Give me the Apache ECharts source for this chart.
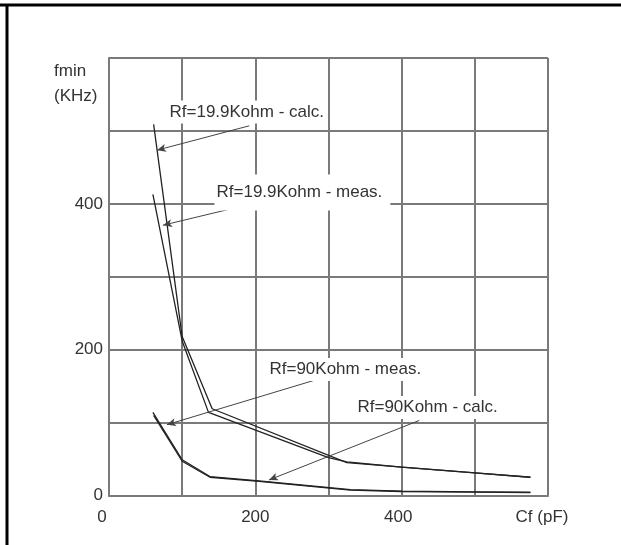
<!DOCTYPE html>
<html>
<head>
<meta charset="utf-8">
<script src="https://cdn.jsdelivr.net/npm/echarts@6/dist/echarts.min.js"></script>
<style>
html,body{margin:0;padding:0;background:#fff;}
#chart{width:621px;height:545px;}
</style>
</head>
<body>
<div id="chart"></div>
<script>
// ---- data ----
const calc19X = [61, 100, 141, 325, 400, 500, 576];
const calc19Y = [509, 218, 119, 45, 39, 31, 25];
const meas19X = [60, 100, 136, 300, 325, 400, 500, 576];
const meas19Y = [413, 212, 114, 52, 46, 39, 31, 25];
const meas90X = [60, 100, 138, 205, 330, 400, 500, 576];
const meas90Y = [114, 49, 26, 20, 8, 6, 5, 4.5];
const calc90X = [61, 100, 138, 205, 330, 400, 500, 576];
const calc90Y = [110, 47, 25, 19.5, 7.5, 5.5, 4.5, 4];

const xTickVals = [0, 200, 400, 600];
const xTickText = ['0', '200', '400', 'Cf (pF)'];
const yTickVals = [0, 200, 400];
const yTickText = ['0', '200', '400'];
const yAxisTitle = ['fmin', '(KHz)'];

// annotation texts and anchors (data coordinates)
const annTexts = ['Rf=19.9Kohm - calc.', 'Rf=19.9Kohm - meas.', 'Rf=90Kohm - meas.', 'Rf=90Kohm - calc.'];
const annTextAt = [[79.3, 526], [143.5, 415.5], [215.9, 172.8], [336.2, 120.8]];
const annLineFrom = [[191.7, 507], [215.9, 405], [282.9, 158.7], [424, 102.9]];
const annLineTo = [[65.6, 473.6], [73.8, 370.7], [79.1, 97.1], [218.6, 21.3]];

function pairs(xs, ys) { return xs.map((x, i) => [x, ys[i]]); }

const FONT = '"Liberation Sans", Arial, sans-serif';
const FS = 17;
const TXT = '#333';
const GRID = '#7a7a7a';
const CURVE = '#222';
const annPadding = [[3, 2, 3, 2], [3, 8, 16, 2], [3, 2, 3, 2], [3, 2, 3, 2]];

const chart = echarts.init(document.getElementById('chart'), null, {renderer: 'canvas'});

const curveStyle = {color: CURVE, width: 1.3};
const lbl = {color: TXT, fontFamily: FONT, fontSize: FS};

const option = {
  animation: false,
  backgroundColor: '#fff',
  grid: {left: 109, right: 73, top: 58, bottom: 49.5},
  xAxis: {
    type: 'value', min: 0, max: 600, interval: 100,
    axisLine: {show: true, lineStyle: {color: GRID, width: 2}},
    axisTick: {show: false},
    splitLine: {show: true, showMinLine: true, showMaxLine: true, lineStyle: {color: GRID, width: 2}},
    axisLabel: Object.assign({
      margin: 13,
      formatter: function (v) {
        const i = xTickVals.indexOf(v);
        if (i < 0) return '';
        if (i === 0) return '{z|' + xTickText[i] + '}';
        if (i === xTickVals.length - 1) return '{e|' + xTickText[i] + '}';
        if (i === 2) return '{f|' + xTickText[i] + '}';
        return xTickText[i];
      },
      rich: {
        z: Object.assign({padding: [0, 14, 0, 0]}, lbl),
        e: Object.assign({padding: [0, 12, 0, 0]}, lbl),
        f: Object.assign({padding: [0, 7, 0, 0]}, lbl)
      }
    }, lbl)
  },
  yAxis: {
    type: 'value', min: 0, max: 600, interval: 100,
    axisLine: {show: true, lineStyle: {color: GRID, width: 2}},
    axisTick: {show: false},
    splitLine: {show: true, showMinLine: true, showMaxLine: true, lineStyle: {color: GRID, width: 2}},
    axisLabel: Object.assign({
      margin: 6,
      formatter: function (v) {
        const i = yTickVals.indexOf(v);
        return i < 0 ? '' : yTickText[i];
      }
    }, lbl)
  },
  series: [
    {
      name: 'Rf=19.9Kohm - calc.', type: 'line', symbol: 'none', z: 3,
      data: pairs(calc19X, calc19Y), lineStyle: curveStyle
    },
    {
      name: 'Rf=19.9Kohm - meas.', type: 'line', symbol: 'none', z: 3,
      data: pairs(meas19X, meas19Y), lineStyle: curveStyle
    },
    {
      name: 'Rf=90Kohm - meas.', type: 'line', symbol: 'none', z: 3,
      data: pairs(meas90X, meas90Y), lineStyle: curveStyle
    },
    {
      name: 'Rf=90Kohm - calc.', type: 'line', symbol: 'none', z: 3,
      data: pairs(calc90X, calc90Y), lineStyle: curveStyle
    },
    {
      name: 'annotations', type: 'line', symbol: 'none', z: 4,
      data: pairs(calc19X, calc19Y), lineStyle: {width: 0, opacity: 0},
      markLine: {
        silent: true,
        symbol: ['none', 'arrow'],
        symbolSize: [6, 9],
        label: {show: false},
        lineStyle: {color: '#444', width: 1, type: 'solid'},
        itemStyle: {color: '#111'},
        data: annLineFrom.map((p, i) => [{coord: p}, {coord: annLineTo[i]}])
      },
      markPoint: {
        silent: true,
        symbol: 'rect',
        symbolSize: 1,
        itemStyle: {color: 'rgba(0,0,0,0)'},
        data: annTextAt.map((p, i) => ({
          coord: p,
          label: Object.assign({
            show: true, position: 'right', distance: 0,
            formatter: annTexts[i],
            backgroundColor: '#fff', padding: annPadding[i]
          }, lbl)
        }))
      }
    }
  ],
  graphic: [
    {type: 'line', shape: {x1: 0, y1: 5, x2: 621, y2: 5}, style: {stroke: '#000', lineWidth: 3}, z: 100},
    {type: 'line', shape: {x1: 7, y1: 5, x2: 7, y2: 545}, style: {stroke: '#000', lineWidth: 3}, z: 100},
    {type: 'text', left: 54, top: 63, style: {text: yAxisTitle[0], fill: TXT, font: FS + 'px ' + FONT}},
    {type: 'text', left: 54, top: 88, style: {text: yAxisTitle[1], fill: TXT, font: FS + 'px ' + FONT}}
  ]
};
chart.setOption(option);
</script>
</body>
</html>
